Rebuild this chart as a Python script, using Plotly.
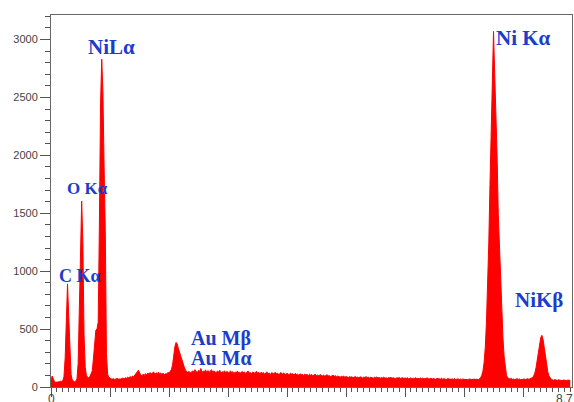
import plotly.graph_objects as go

# EDS spectrum: counts per 0.02 keV channel, starting at 0 keV
channel_start = 0.0
channel_width = 0.02
counts = [
    60, 95, 70, 45, 40, 42, 38, 45, 50, 48, 55, 90, 250, 600, 890, 620, 280, 110, 60, 50,
    45, 50, 70, 200, 700, 1350, 1605, 1250, 450, 170, 100, 85, 80, 90, 110, 140, 250, 380, 490, 500,
    560, 1400, 2450, 2830, 2550, 1900, 1350, 280, 110, 85, 75, 70, 68, 72, 65, 70, 74, 68, 72, 70,
    72, 78, 70, 80, 76, 85, 78, 90, 82, 95, 88, 100, 110, 130, 145, 120, 105, 95, 110, 100,
    115, 105, 120, 110, 125, 112, 118, 130, 108, 122, 115, 128, 112, 120, 110, 118, 108, 115, 112, 125,
    120, 135, 150, 190, 280, 350, 385, 370, 330, 295, 260, 225, 200, 170, 145, 130, 125, 135, 122, 128,
    140, 128, 150, 135, 122, 145, 130, 160, 125, 138, 132, 148, 120, 142, 128, 135, 150, 126, 140, 130,
    122, 138, 128, 145, 118, 132, 125, 140, 120, 135, 128, 118, 140, 125, 132, 115, 130, 122, 138, 120,
    128, 118, 135, 122, 130, 115, 128, 138, 120, 125, 112, 130, 122, 118, 135, 120, 126, 112, 128, 118,
    125, 110, 122, 130, 115, 120, 108, 125, 118, 112, 128, 115, 120, 105, 118, 125, 110, 120, 115, 108,
    118, 112, 105, 120, 110, 115, 102, 118, 108, 112, 100, 115, 105, 110, 98, 112, 104, 108, 100, 110,
    102, 108, 96, 105, 110, 98, 104, 95, 108, 100, 96, 104, 92, 100, 106, 94, 100, 90, 98, 102,
    92, 98, 88, 95, 90, 85, 92, 88, 95, 84, 90, 86, 82, 90, 85, 88, 80, 86, 90, 82,
    86, 80, 88, 84, 78, 86, 82, 90, 80, 84, 78, 85, 80, 76, 84, 80, 86, 78, 82, 76,
    82, 78, 85, 76, 80, 74, 82, 78, 84, 75, 80, 77, 72, 80, 76, 82, 74, 78, 80, 73,
    78, 74, 80, 72, 76, 78, 70, 76, 74, 80, 72, 75, 70, 78, 73, 76, 70, 74, 72, 78,
    72, 70, 76, 68, 74, 71, 66, 74, 70, 72, 68, 75, 67, 72, 70, 65, 72, 68, 70, 66,
    70, 66, 72, 64, 68, 70, 65, 68, 62, 70, 66, 64, 68, 63, 66, 70, 64, 66, 62, 68,
    65, 68, 62, 70, 78, 100, 135, 210, 340, 560, 880, 1250, 1750, 2250, 2680, 3070, 2700, 2400, 2000, 1500,
    1200, 950, 650, 420, 260, 150, 100, 80, 72, 68, 74, 66, 70, 64, 68, 72, 65, 70, 63, 68,
    66, 70, 64, 68, 72, 66, 70, 75, 82, 95, 120, 165, 230, 300, 370, 425, 446, 410, 340, 260,
    185, 130, 95, 75, 66, 62, 58, 64, 60, 56, 62, 58, 60, 55, 60, 58, 62, 56, 60, 58, 57,
]

# Peak labels: text, energy (keV), counts
label_texts = ["NiLα", "O Kα", "C Kα", "Ni Kα", "NiKβ", "Au Mβ", "Au Mα"]
label_x = [0.61, 0.254, 0.124, 7.525, 7.85, 2.356, 2.356]
label_y = [2936, 1716, 961, 3014, 754, 418, 254]
label_sizes = [21, 17, 18, 21, 21, 20, 20]

y_tick_vals = [0, 500, 1000, 1500, 2000, 2500, 3000]
x_major_ticks = [0, 1, 2, 3, 4, 5, 6, 7, 8]
x_end_labels = ["0", "8.7"]
x_end_positions = [0, 8.7]

fig = go.Figure()
fig.add_trace(go.Scatter(
    x0=channel_start, dx=channel_width, y=counts,
    mode="lines", fill="tozeroy",
    line=dict(color="#ff0000", width=1),
    fillcolor="#ff0000",
    hoverinfo="skip", showlegend=False,
))

for t, x, y, s in zip(label_texts, label_x, label_y, label_sizes):
    fig.add_annotation(
        x=x, y=y, text=t, showarrow=False, xanchor="left", yanchor="middle",
        font=dict(family="Liberation Serif", size=s, color="#1c3ccc", weight="bold"),
        borderpad=0,
    )

for t, x in zip(x_end_labels, x_end_positions):
    fig.add_annotation(
        x=x, y=-0.01, yref="paper", text=t, showarrow=False,
        xanchor="center", yanchor="top",
        font=dict(family="Liberation Sans", size=12, color="#444444"),
        borderpad=0,
    )

fig.update_layout(
    width=574, height=402,
    margin=dict(l=51, r=2, t=15, b=15, pad=0),
    paper_bgcolor="white", plot_bgcolor="white",
    xaxis=dict(
        range=[0, 8.83], showgrid=False, zeroline=False,
        showline=True, linecolor="#666666", linewidth=1, mirror=True,
        ticks="outside", ticklen=9, tickcolor="#555555",
        tickvals=x_major_ticks, showticklabels=False,
        minor=dict(dtick=0.1, tick0=0, ticks="outside", ticklen=4, tickcolor="#555555"),
    ),
    yaxis=dict(
        range=[0, 3212], showgrid=False, zeroline=False,
        showline=True, linecolor="#666666", linewidth=1, mirror=True,
        ticks="outside", ticklen=10, tickcolor="#555555",
        tickvals=y_tick_vals,
        tickfont=dict(family="Liberation Sans", size=11, color="#444444"),
        minor=dict(dtick=100, tick0=0, ticks="outside", ticklen=5, tickcolor="#555555"),
    ),
)

fig.write_html("out.html")
